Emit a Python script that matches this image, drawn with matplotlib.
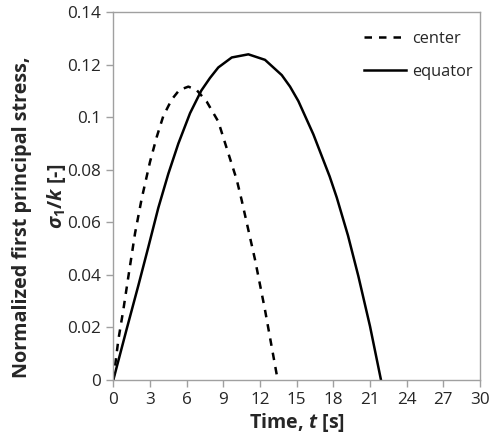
import matplotlib
matplotlib.use("Agg")
import matplotlib.pyplot as plt

plt.rcParams['font.family'] = ['Open Sans', 'DejaVu Sans']
plt.rcParams['mathtext.fontset'] = 'custom'
plt.rcParams['mathtext.it'] = 'Open Sans:italic:bold'
plt.rcParams['mathtext.rm'] = 'Open Sans:bold'
plt.rcParams['mathtext.bf'] = 'Open Sans:bold'

# Data
center_t = [0, 0.41, 0.82, 1.23, 1.78, 2.32, 3.0, 3.55, 4.09, 4.78, 5.4, 6.14, 6.82, 7.64,
            8.59, 9.41, 10.1, 10.5, 11.6, 12.41, 13.45]
center_v = [0, 0.0152, 0.0267, 0.0393, 0.0559, 0.0690, 0.0830, 0.0925, 0.1005, 0.1068, 0.1104,
            0.1117, 0.1104, 0.1060, 0.0984, 0.0863, 0.0762, 0.0685, 0.0457, 0.0267, 0]

equator_t = [0, 1.1, 2.05, 2.86, 3.68, 4.5, 5.32, 6.28, 7.2, 7.91, 8.59, 9.69, 11.05, 12.41,
             13.78, 14.46, 15.14, 16.37, 17.7, 18.28, 19.2, 20.05, 21.0, 21.9]
equator_v = [0, 0.0195, 0.036, 0.0505, 0.0655, 0.0785, 0.0900, 0.1016, 0.1102, 0.1150, 0.1190,
             0.1228, 0.1240, 0.1219, 0.1161, 0.1117, 0.1062, 0.0935, 0.0775, 0.0695, 0.0550,
             0.0395, 0.0205, 0]

x_ticks = [0, 3, 6, 9, 12, 15, 18, 21, 24, 27, 30]
y_ticks = [0, 0.02, 0.04, 0.06, 0.08, 0.1, 0.12, 0.14]
y_tick_labels = ['0', '0.02', '0.04', '0.06', '0.08', '0.1', '0.12', '0.14']

W, H = 492, 438
fig = plt.figure(figsize=(W / 100, H / 100), dpi=100)
ax = fig.add_axes([113.3 / W, 1 - 380 / H, (480 - 113.3) / W, (380 - 12.3) / H])

ax.plot(center_t, center_v, color='black', lw=1.8, linestyle=(0, (3.0, 2.8)), label='center')
ax.plot(equator_t, equator_v, color='black', lw=1.8, label='equator')

ax.set_xlim(0, 30)
ax.set_ylim(0, 0.14)
ax.set_xticks(x_ticks)
ax.set_yticks(y_ticks)
ax.set_yticklabels(y_tick_labels)

grey = '#a0a0a0'
txt = '#262626'
for s in ax.spines.values():
    s.set_color(grey)
    s.set_linewidth(1.0)
ax.tick_params(axis='both', which='both', direction='out', length=5, width=1.0,
               color=grey, labelsize=12.3, labelcolor=txt, pad=4)

ax.set_xlabel('Time, $t$ [s]', fontsize=14.2, fontweight='bold', color=txt, labelpad=2)

fig.text(22 / W, 1 - 217 / H, 'Normalized first principal stress,', rotation=90,
         ha='center', va='center', fontsize=14.2, fontweight='bold', color=txt)
fig.text(57 / W, 1 - 196 / H, '$\\sigma_1/k$ [-]', rotation=90,
         ha='center', va='center', fontsize=14.2, fontweight='bold', color=txt)

leg = ax.legend(loc='upper right', frameon=False, fontsize=11.8, handlelength=2.6,
                handletextpad=0.35, labelspacing=1.05, bbox_to_anchor=(1.02, 0.99))
for t in leg.get_texts():
    t.set_color(txt)

fig.savefig('out.png', dpi=100)
